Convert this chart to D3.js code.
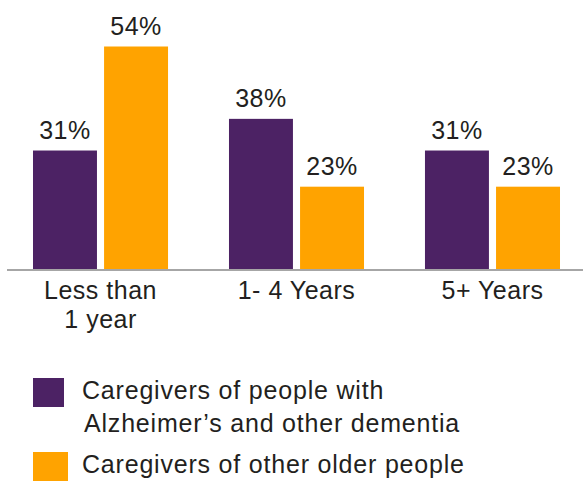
<!DOCTYPE html>
<html>
<head>
<meta charset="utf-8">
<script src="https://cdn.jsdelivr.net/npm/d3@7"></script>
<style>
  body { margin: 0; background: #fff; }
  text { font-family: "Liberation Sans", Arial, sans-serif; fill: #231f20; font-size: 25px; letter-spacing: 0.5px; }
  .legend text { letter-spacing: 0.8px; }
</style>
</head>
<body>
<div id="chart"></div>
<script>
const categories = [["Less than", "1 year"], ["1- 4 Years"], ["5+ Years"]];
const seriesNames = [
  ["Caregivers of people with", "Alzheimer\u2019s and other dementia"],
  ["Caregivers of other older people"]
];
const dementiaValues = [31, 38, 31];
const otherValues = [54, 23, 23];
const colors = ["#4c2264", "#ffa300"];

const width = 583,
  height = 481;

const svg = d3
  .select("#chart")
  .append("svg")
  .attr("width", width)
  .attr("height", height);

const x0 = d3
  .scaleBand()
  .domain(d3.range(categories.length))
  .range([2.5, 590.5])
  .paddingInner(0.311)
  .paddingOuter(0.1556);

const x1 = d3
  .scaleBand()
  .domain([0, 1])
  .range([0, x0.bandwidth()])
  .paddingInner(0.1);

// axis doesn't start at zero in the original
const y = d3.scaleLinear().domain([4.8, 54]).range([269, 46.5]);

const rows = categories.map((c, i) => ({
  idx: i,
  vals: [dementiaValues[i], otherValues[i]]
}));

const groups = svg
  .selectAll(".group")
  .data(rows)
  .enter()
  .append("g")
  .attr("transform", (d) => `translate(${x0(d.idx)},0)`);

groups
  .selectAll("rect")
  .data((d) => d.vals.map((v, s) => ({ v, s })))
  .enter()
  .append("rect")
  .attr("x", (d) => x1(d.s))
  .attr("y", (d) => y(d.v))
  .attr("width", x1.bandwidth())
  .attr("height", (d) => y.range()[0] - y(d.v))
  .attr("fill", (d) => colors[d.s]);

//value labels
groups
  .selectAll(".val")
  .data((d) => d.vals.map((v, s) => ({ v, s })))
  .enter()
  .append("text")
  .attr("x", (d) => x1(d.s) + x1.bandwidth() / 2)
  .attr("y", (d) => y(d.v) - 12)
  .attr("text-anchor", "middle")
  .text((d) => d.v + "%");

//baseline
svg
  .append("line")
  .attr("x1", 7)
  .attr("x2", width)
  .attr("y1", 270)
  .attr("y2", 270)
  .attr("stroke", "#a6a6a6")
  .attr("stroke-width", 2);

//category labels
svg
  .selectAll(".cat")
  .data(categories)
  .enter()
  .append("text")
  .attr("text-anchor", "middle")
  .attr("transform", (d, i) => `translate(${x0(i) + x0.bandwidth() / 2},299)`)
  .selectAll("tspan")
  .data((d) => d)
  .enter()
  .append("tspan")
  .attr("x", 0)
  .attr("dy", (d, i) => (i === 0 ? 0 : 29))
  .text((d) => d);

//legend
const legendTop = [378, 452];
const legend = svg
  .selectAll(".legend")
  .data(seriesNames)
  .enter()
  .append("g")
  .attr("class", "legend")
  .attr("transform", (d, i) => `translate(33,${legendTop[i]})`);

legend
  .append("rect")
  .attr("width", (d, i) => (i === 0 ? 31 : 35))
  .attr("height", 29)
  .attr("fill", (d, i) => colors[i]);

legend
  .append("text")
  .attr("y", 21)
  .selectAll("tspan")
  .data((d) => d)
  .enter()
  .append("tspan")
  .attr("x", (d, i) => (i === 0 ? 49 : 51))
  .attr("dy", (d, i) => (i === 0 ? 0 : 33))
  .text((d) => d);
</script>
</body>
</html>
